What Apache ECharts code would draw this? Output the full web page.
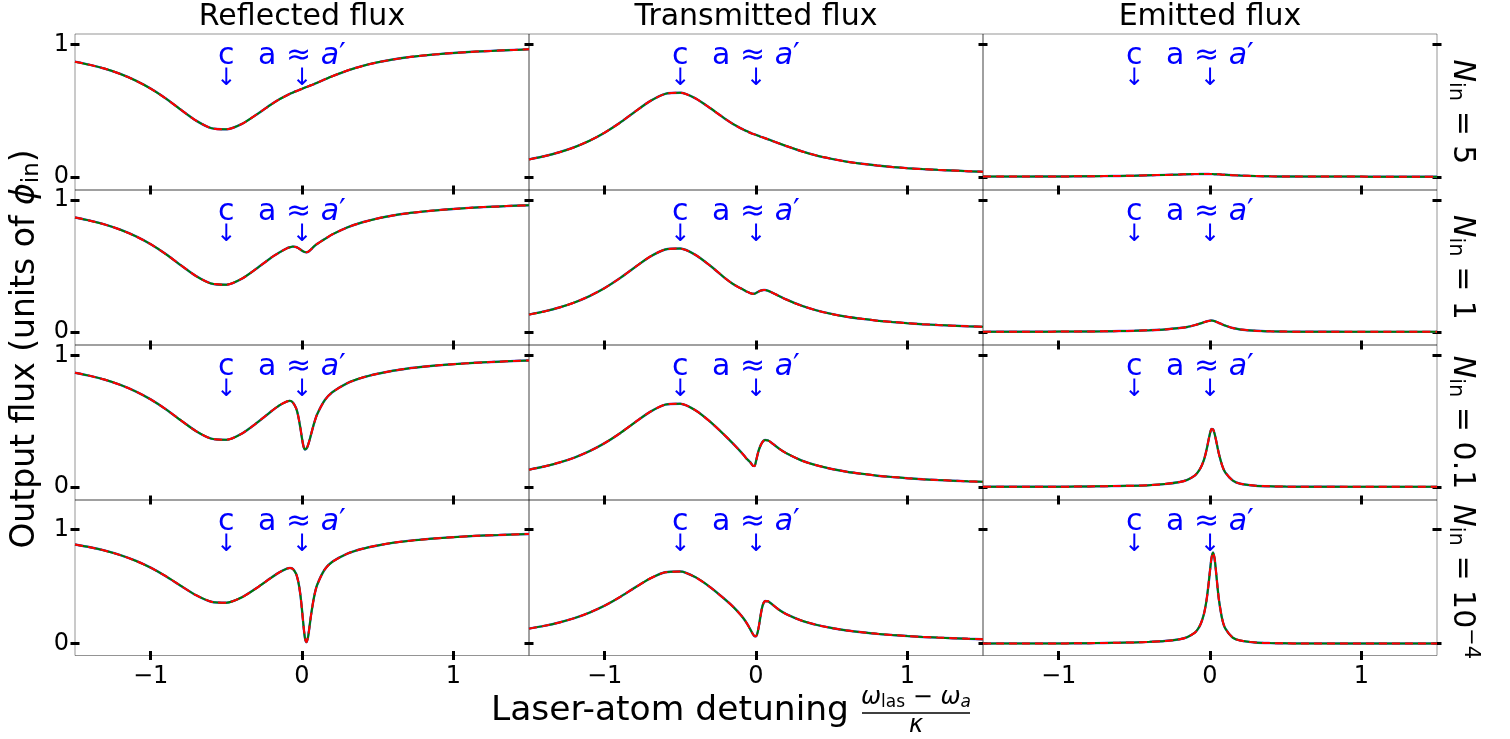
<!DOCTYPE html>
<html><head><meta charset="utf-8">
<script src="https://cdn.jsdelivr.net/npm/echarts@6/dist/echarts.min.js"></script>
<style>html,body{margin:0;padding:0;background:#fff}#c{width:1510px;height:739px}</style>
</head><body><div id="c"></div>
<script>
// ---- data ----
const detuning = [-1.5,-1.4,-1.3,-1.2,-1.1,-1.0,-0.9,-0.8,-0.7,-0.6,-0.5,-0.4,-0.3,-0.2,-0.15,-0.1,-0.08,-0.06,-0.04,-0.03,-0.02,-0.01,0,0.01,0.02,0.03,0.04,0.05,0.06,0.08,0.1,0.15,0.2,0.3,0.4,0.5,0.6,0.7,0.8,0.9,1.0,1.1,1.2,1.3,1.4,1.5];

const reflected_N5 = [0.869,0.845,0.815,0.776,0.727,0.666,0.591,0.506,0.424,0.367,0.358,0.397,0.470,0.549,0.585,0.615,0.626,0.636,0.646,0.650,0.655,0.659,0.664,0.669,0.674,0.678,0.682,0.687,0.691,0.700,0.710,0.735,0.759,0.802,0.837,0.864,0.885,0.902,0.915,0.926,0.935,0.942,0.948,0.953,0.958,0.962];
const transmitted_N5 = [0.131,0.155,0.185,0.223,0.272,0.333,0.407,0.491,0.571,0.626,0.634,0.592,0.516,0.434,0.397,0.365,0.354,0.344,0.333,0.328,0.324,0.320,0.316,0.312,0.308,0.303,0.299,0.295,0.291,0.283,0.274,0.253,0.232,0.193,0.160,0.135,0.114,0.098,0.085,0.074,0.065,0.058,0.052,0.047,0.042,0.038];
const emitted_N5 = [0.001,0.001,0.001,0.001,0.002,0.002,0.003,0.004,0.005,0.006,0.008,0.011,0.014,0.017,0.019,0.020,0.020,0.021,0.021,0.021,0.021,0.021,0.020,0.020,0.020,0.019,0.019,0.018,0.018,0.016,0.015,0.012,0.009,0.005,0.003,0.002,0.001,0.001,0.001,0.001,0.001,0,0,0,0,0];

const reflected_N1 = [0.869,0.845,0.815,0.776,0.727,0.666,0.591,0.506,0.424,0.367,0.358,0.402,0.481,0.567,0.603,0.635,0.643,0.648,0.645,0.640,0.633,0.625,0.617,0.610,0.606,0.605,0.608,0.616,0.627,0.650,0.668,0.705,0.740,0.794,0.833,0.862,0.884,0.901,0.914,0.925,0.934,0.942,0.948,0.953,0.958,0.962];
const transmitted_N1 = [0.131,0.155,0.185,0.223,0.272,0.333,0.407,0.491,0.571,0.626,0.633,0.585,0.500,0.404,0.362,0.330,0.318,0.305,0.295,0.291,0.289,0.290,0.295,0.302,0.308,0.313,0.316,0.318,0.318,0.312,0.302,0.274,0.246,0.199,0.163,0.136,0.115,0.099,0.085,0.075,0.066,0.058,0.052,0.047,0.042,0.038];
const emitted_N1 = [0,0.001,0.001,0.001,0.001,0.002,0.002,0.003,0.004,0.006,0.008,0.012,0.018,0.029,0.037,0.051,0.058,0.065,0.073,0.077,0.080,0.083,0.085,0.086,0.085,0.082,0.077,0.072,0.067,0.057,0.048,0.029,0.018,0.008,0.004,0.002,0.001,0.001,0.001,0,0,0,0,0,0,0];

const reflected_N01 = [0.869,0.845,0.815,0.776,0.727,0.666,0.591,0.506,0.424,0.367,0.358,0.404,0.486,0.578,0.620,0.650,0.655,0.642,0.602,0.565,0.510,0.443,0.369,0.308,0.285,0.292,0.318,0.356,0.400,0.484,0.552,0.659,0.720,0.790,0.832,0.861,0.884,0.901,0.914,0.925,0.934,0.942,0.948,0.953,0.958,0.962];
const transmitted_N01 = [0.131,0.155,0.185,0.223,0.272,0.333,0.407,0.491,0.571,0.626,0.633,0.583,0.493,0.385,0.327,0.266,0.240,0.212,0.190,0.175,0.160,0.158,0.195,0.245,0.285,0.315,0.337,0.351,0.357,0.353,0.338,0.293,0.256,0.201,0.164,0.136,0.115,0.099,0.085,0.075,0.066,0.058,0.052,0.047,0.042,0.038];
const emitted_N01 = [0,0.001,0.001,0.001,0.001,0.001,0.002,0.003,0.005,0.007,0.009,0.013,0.021,0.037,0.053,0.087,0.112,0.149,0.206,0.247,0.297,0.354,0.407,0.440,0.438,0.406,0.355,0.299,0.246,0.164,0.111,0.048,0.024,0.009,0.004,0.002,0.001,0.001,0.001,0,0,0,0,0,0,0];

const reflected_N1e4 = [0.869,0.845,0.815,0.776,0.727,0.666,0.591,0.506,0.424,0.367,0.358,0.404,0.487,0.581,0.625,0.658,0.664,0.655,0.615,0.574,0.512,0.420,0.296,0.154,0.045,0.012,0.058,0.152,0.252,0.411,0.514,0.650,0.717,0.789,0.832,0.861,0.884,0.901,0.914,0.925,0.934,0.942,0.948,0.953,0.958,0.962];
const transmitted_N1e4 = [0.131,0.155,0.185,0.223,0.272,0.333,0.407,0.491,0.571,0.626,0.632,0.582,0.492,0.382,0.321,0.250,0.216,0.176,0.130,0.105,0.082,0.065,0.064,0.094,0.160,0.244,0.314,0.356,0.374,0.371,0.351,0.298,0.258,0.202,0.164,0.136,0.115,0.099,0.085,0.075,0.066,0.058,0.052,0.047,0.042,0.038];
const emitted_N1e4 = [0,0.001,0.001,0.001,0.001,0.001,0.002,0.003,0.005,0.007,0.010,0.015,0.022,0.038,0.056,0.096,0.127,0.176,0.260,0.324,0.408,0.516,0.640,0.752,0.800,0.749,0.628,0.492,0.374,0.218,0.135,0.052,0.026,0.009,0.004,0.002,0.001,0.001,0.001,0,0,0,0,0,0,0];

const columnTitles = ['Reflected flux', 'Transmitted flux', 'Emitted flux'];
const rowValues = ['5', '1', '0.1', '10'];
const rowExponents = ['', '', '', '\u22124'];
const xTickValues = [-1, 0, 1];
const yTickValues = [0, 1];
const markerX = [-0.5, 0];

// ---- layout ----
const FONT = 'DejaVu Sans';
const colLeft = [75, 529, 983], colW = 454;
const rowTop = [34, 190, 345, 500], rowH = [156, 155, 155, 155.5];
const yRange = [[-0.1, 1.078], [-0.1, 1.078], [-0.1, 1.08], [-0.105, 1.26]];
const rows = [
  [reflected_N5, transmitted_N5, emitted_N5],
  [reflected_N1, transmitted_N1, emitted_N1],
  [reflected_N01, transmitted_N01, emitted_N01],
  [reflected_N1e4, transmitted_N1e4, emitted_N1e4]
];

const grids = [], xAxes = [], yAxes = [], series = [];
const fmtX = v => v < 0 ? '\u2212' + Math.abs(v) : String(v);
const blue = '#0000ff';

for (let r = 0; r < 4; r++) {
  for (let c = 0; c < 3; c++) {
    const g = grids.length;
    grids.push({left: colLeft[c], top: rowTop[r], width: colW, height: rowH[r], show: true,
      borderColor: 'rgba(0,0,0,0.42)', borderWidth: 1, backgroundColor: 'transparent'});
    const xi = xAxes.length;
    [false, true].forEach(inside => {
      xAxes.push({type: 'value', gridIndex: g, min: -1.5, max: 1.5, position: 'bottom',
        axisLine: {show: false, onZero: false}, splitLine: {show: false},
        axisTick: {show: true, inside: inside, length: 4.5, customValues: xTickValues, lineStyle: {color: '#000', width: 3}},
        axisLabel: {show: r === 3 && !inside, customValues: xTickValues, formatter: fmtX, fontSize: 24,
          color: '#000', fontFamily: FONT, margin: 9}});
    });
    const yi = yAxes.length;
    ['left', 'right'].forEach(pos => {
      [false, true].forEach(inside => {
        yAxes.push({type: 'value', gridIndex: g, min: yRange[r][0], max: yRange[r][1], position: pos,
          axisLine: {show: false, onZero: false}, splitLine: {show: false},
          axisTick: {show: true, inside: inside, length: 4.5, customValues: yTickValues, lineStyle: {color: '#000', width: 3}},
          axisLabel: {show: c === 0 && pos === 'left' && !inside, customValues: yTickValues, fontSize: 24,
            color: '#000', fontFamily: FONT, margin: 6}});
      });
    });
    const vals = rows[r][c];
    const pts = detuning.map((x, i) => [x, vals[i]]);
    const base = {type: 'line', xAxisIndex: xi, yAxisIndex: yi, data: pts, symbol: 'none', showSymbol: false,
      smooth: 0.25, silent: true, animation: false};
    series.push(Object.assign({}, base, {lineStyle: {color: '#5a5aff', width: 2.4}, z: 2}));
    series.push(Object.assign({}, base, {lineStyle: {color: '#007a00', width: 2}, z: 3}));
    series.push(Object.assign({}, base, {lineStyle: {color: '#ff0000', width: 2, type: [8, 5]}, z: 4}));
    const top = yRange[r][1];
    series.push({type: 'scatter', xAxisIndex: xi, yAxisIndex: yi, symbolSize: 1, silent: true, clip: false,
      itemStyle: {color: 'rgba(255,255,255,0)'}, animation: false, z: 5,
      label: {show: true, position: 'inside', offset: [0, 30], color: blue, opacity: 1,
        textBorderWidth: 0, textBorderColor: 'transparent',
        rich: {
          t: {fontSize: 30, fontFamily: FONT, color: blue, lineHeight: 30, textBorderWidth: 0},
          ti: {fontSize: 30, fontFamily: FONT, fontStyle: 'italic', color: blue, lineHeight: 30, textBorderWidth: 0},
          r: {fontSize: 24, fontFamily: FONT, color: blue, lineHeight: 16, textBorderWidth: 0}
        }},
      data: [
        {value: [markerX[0], top], label: {formatter: '{t|c}\n{r|\u2193}'}},
        {value: [markerX[1], top], label: {formatter: '{t|a \u2248 }{ti|a}{t|\u2032}\n{r|\u2193}'}}
      ]});
  }
}

const graphics = [];
columnTitles.forEach((t, c) => {
  graphics.push({type: 'text', x: colLeft[c] + colW / 2, y: 17,
    style: {text: t, font: '30px "DejaVu Sans"', fill: '#000', textAlign: 'center', textVerticalAlign: 'middle', align: 'center', verticalAlign: 'middle'}});
});
// Right-hand row labels
rowValues.forEach((v, r) => {
  const exp = rowExponents[r] ? '{p|' + rowExponents[r] + '}' : '';
  graphics.push({type: 'text', x: 1462, y: rowTop[r] + rowH[r] / 2 + (r === 3 ? 4 : 0), rotation: -Math.PI / 2,
    style: {text: '{n|N}{s|in}{t| = ' + v + '}' + exp, textAlign: 'center', textVerticalAlign: 'middle', align: 'center', verticalAlign: 'middle',
      rich: {
        n: {fontSize: 30, fontFamily: FONT, fontStyle: 'italic', fill: '#000', color: '#000'},
        s: {fontSize: 21, fontFamily: FONT, fill: '#000', color: '#000', padding: [14, 0, 0, 0]},
        t: {fontSize: 30, fontFamily: FONT, fill: '#000', color: '#000'},
        p: {fontSize: 21, fontFamily: FONT, fill: '#000', color: '#000', padding: [0, 0, 16, 0]}
      }}});
});
// Y axis label
graphics.push({type: 'text', x: 25, y: 349, rotation: Math.PI / 2,
  style: {text: '{t|Output flux (units of }{i|\u03d5}{s|in}{t|)}', textAlign: 'center', textVerticalAlign: 'middle', align: 'center', verticalAlign: 'middle',
    rich: {
      t: {fontSize: 33, fontFamily: FONT, fill: '#000', color: '#000'},
      i: {fontSize: 33, fontFamily: FONT, fontStyle: 'italic', fill: '#000', color: '#000'},
      s: {fontSize: 23, fontFamily: FONT, fill: '#000', color: '#000', padding: [15, 0, 0, 0]}
    }}});
// X axis label
graphics.push({type: 'text', x: 849, y: 711,
  style: {text: 'Laser-atom detuning', font: '34.5px "DejaVu Sans"', fill: '#000', textAlign: 'right', textVerticalAlign: 'middle', align: 'right', verticalAlign: 'middle'}});
graphics.push({type: 'text', x: 916, y: 698,
  style: {text: '{w|\u03c9}{s|las}{t| \u2212 }{w|\u03c9}{si|a}', textAlign: 'center', textVerticalAlign: 'middle', align: 'center', verticalAlign: 'middle',
    rich: {
      w: {fontSize: 24, fontFamily: FONT, fontStyle: 'italic', fill: '#000', color: '#000'},
      t: {fontSize: 24, fontFamily: FONT, fill: '#000', color: '#000'},
      s: {fontSize: 17, fontFamily: FONT, fill: '#000', color: '#000', padding: [10, 0, 0, 0]},
      si: {fontSize: 17, fontFamily: FONT, fontStyle: 'italic', fill: '#000', color: '#000', padding: [10, 0, 0, 0]}
    }}});
graphics.push({type: 'line', shape: {x1: 862, y1: 713, x2: 970, y2: 713}, style: {stroke: '#000', lineWidth: 1.3}});
graphics.push({type: 'text', x: 916, y: 726,
  style: {text: '\u03ba', font: 'italic 24px "DejaVu Sans"', fill: '#000', textAlign: 'center', textVerticalAlign: 'middle', align: 'center', verticalAlign: 'middle'}});

const chart = echarts.init(document.getElementById('c'), null, {renderer: 'canvas'});
chart.setOption({
  animation: false,
  backgroundColor: '#fff',
  grid: grids, xAxis: xAxes, yAxis: yAxes, series: series,
  graphic: graphics
});
</script></body></html>
